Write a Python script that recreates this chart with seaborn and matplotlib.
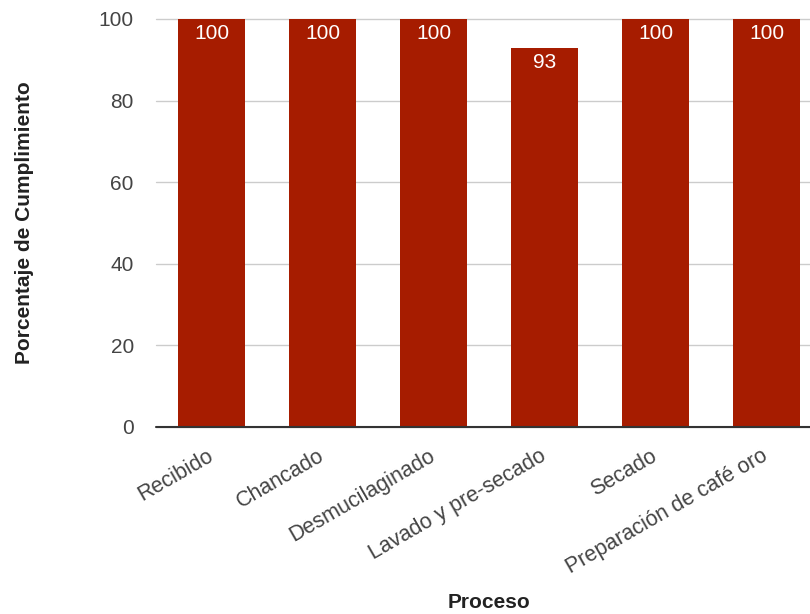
import matplotlib
matplotlib.use("Agg")
import matplotlib.pyplot as plt
import seaborn as sns
import pandas as pd

# Compliance per coffee processing stage
procesos = [
    "Recibido",
    "Chancado",
    "Desmucilaginado",
    "Lavado y pre-secado",
    "Secado",
    "Preparación de café oro",
]
cumplimiento = [100, 100, 100, 93, 100, 100]
y_ticks = [0, 20, 40, 60, 80, 100]

sns.set_theme(style="white")
plt.rcParams["font.family"] = ["Liberation Sans", "DejaVu Sans"]

BAR_COLOR = "#a61c00"
TICK_COLOR = "#444444"

fig = plt.figure(figsize=(8.1, 6.14), dpi=100)
ax = fig.add_axes([0.1926, 0.3046, 0.8222, 0.6645])

df = pd.DataFrame({"Proceso": procesos, "Cumplimiento": cumplimiento})
sns.barplot(
    data=df, x="Proceso", y="Cumplimiento",
    color=BAR_COLOR, saturation=1, width=0.61, linewidth=0, ax=ax,
)

ax.set_xlim(-0.5, len(procesos) - 0.5)
ax.set_ylim(0, 100)
ax.set_yticks(y_ticks)
ax.set_yticklabels([str(t) for t in y_ticks])

# light horizontal grid, dark baseline
ax.grid(axis="y", color="#cccccc", linewidth=1)
ax.set_axisbelow(True)
for gl in ax.get_ygridlines():
    gl.set_clip_on(False)
for s in ax.spines.values():
    s.set_visible(False)
ax.axhline(0, color="#333333", linewidth=1.5, clip_on=False, zorder=3)

ax.tick_params(axis="y", length=0, pad=16, labelsize=15, labelcolor=TICK_COLOR)
ax.tick_params(axis="x", length=0, pad=20, labelsize=15.5, labelcolor=TICK_COLOR)
for lab in ax.get_xticklabels():
    lab.set_rotation(30)
    lab.set_ha("right")
    lab.set_va("center")
    lab.set_rotation_mode("anchor")

# value labels inside the top of each bar
for bar in ax.patches:
    h = bar.get_height()
    ax.annotate(
        f"{h:g}",
        (bar.get_x() + bar.get_width() / 2, h),
        xytext=(0, -15), textcoords="offset pixels",
        ha="center", va="center", color="white", fontsize=15,
    )

ax.set_xlabel("Proceso", fontsize=15, fontweight="bold", color="#222222")
ax.set_ylabel("Porcentaje de Cumplimiento", fontsize=15, fontweight="bold", color="#222222")
ax.xaxis.label.set_va("center")
ax.yaxis.label.set_va("center")
ax.xaxis.set_label_coords(0.5, -0.431)
ax.yaxis.set_label_coords(-0.198, 0.5)

fig.savefig("out.png", dpi=100)
